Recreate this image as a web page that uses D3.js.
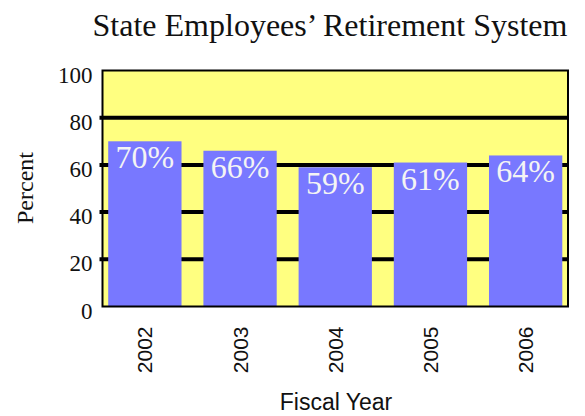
<!DOCTYPE html>
<html>
<head>
<meta charset="utf-8">
<script src="https://cdn.jsdelivr.net/npm/d3@7/dist/d3.min.js"></script>
<style>
  body { margin: 0; background: #fff; }
  svg { display: block; }
</style>
</head>
<body>
<div id="chart"></div>
<script>
"use strict";

// chart data
var years = ["2002", "2003", "2004", "2005", "2006"];
var percents = [70, 66, 59, 61, 64];
var yTicks = [0, 20, 40, 60, 80, 100];

var title = "State Employees\u2019 Retirement System";
var yTitle = "Percent";
var xTitle = "Fiscal Year";

var serif = "'Liberation Serif', 'Times New Roman', serif";
var sans = "'Liberation Sans', Arial, sans-serif";

// size and plot box
var width = 585, height = 416;
var margin = {top: 70.5, right: 17, bottom: 109.5, left: 102.5};
var plotW = width - margin.left - margin.right,
    plotH = height - margin.top - margin.bottom;

var svg = d3.select("#chart")
  .append("svg")
  .attr("width", width)
  .attr("height", height);

var g = svg.append("g")
  .attr("transform", "translate(" + margin.left + "," + margin.top + ")");

var x = d3.scaleBand()
  .domain(years)
  .range([0, plotW])
  .paddingInner(0.23)
  .paddingOuter(0.06);

var y = d3.scaleLinear()
  .domain([0, 100])
  .range([plotH, 0]);

// yellow plot background
g.append("rect")
  .attr("width", plotW)
  .attr("height", plotH)
  .style("fill", "#ffff80");

// thick black grid lines (drawn under the bars)
g.append("g")
  .selectAll("line")
  .data(yTicks.filter(function(d) { return d > 0 && d < 100; }))
  .enter()
  .append("line")
    .attr("x1", -3)
    .attr("x2", plotW)
    .attr("y1", function(d) { return y(d); })
    .attr("y2", function(d) { return y(d); })
    .style("stroke", "#000")
    .style("stroke-width", 4);

// bars
g.append("g")
  .selectAll("rect")
  .data(percents)
  .enter()
  .append("rect")
    .attr("x", function(d, i) { return x(years[i]); })
    .attr("y", function(d) { return y(d); })
    .attr("width", x.bandwidth())
    .attr("height", function(d) { return plotH - y(d); })
    .style("fill", "#7878ff");

// value labels inside the top of each bar
g.append("g")
  .selectAll("text")
  .data(percents)
  .enter()
  .append("text")
    .attr("x", function(d, i) { return x(years[i]) + x.bandwidth() / 2; })
    .attr("y", function(d) { return y(d) + 27; })
    .attr("text-anchor", "middle")
    .attr("font-family", serif)
    .style("font-family", serif)
    .style("font-size", "32px")
    .style("fill", "#f4f4f4")
    .text(function(d) { return d + "%"; });

// frame
g.append("rect")
  .attr("width", plotW)
  .attr("height", plotH)
  .style("fill", "none")
  .style("stroke", "#000")
  .style("stroke-width", 2);

// y axis labels
var yAxis = g.append("g")
  .attr("font-family", serif)
  .call(d3.axisLeft(y).tickValues(yTicks).tickSize(0).tickPadding(10));
yAxis.attr("font-family", serif);
yAxis.select(".domain").remove();
yAxis.selectAll("text")
  .attr("dy", "0.5em")
  .style("font-family", serif)
  .style("font-size", "23px")
  .style("fill", "#111");

// x axis labels, rotated
var xAxis = g.append("g")
  .attr("transform", "translate(0," + plotH + ")")
  .call(d3.axisBottom(x).tickSize(0));
xAxis.select(".domain").remove();
xAxis.selectAll("text")
  .attr("transform", "rotate(-90)")
  .attr("text-anchor", "end")
  .attr("x", -20)
  .attr("y", 0)
  .attr("dy", "0.36em")
  .style("font-family", sans)
  .style("font-size", "21px")
  .style("fill", "#111");

// titles
svg.append("text")
  .attr("x", 330)
  .attr("y", 36)
  .attr("text-anchor", "middle")
  .style("font-family", serif)
  .style("font-size", "32px")
  .style("fill", "#111")
  .text(title);

svg.append("text")
  .attr("transform", "translate(33,188) rotate(-90)")
  .attr("text-anchor", "middle")
  .style("font-family", serif)
  .style("font-size", "24px")
  .style("fill", "#111")
  .text(yTitle);

svg.append("text")
  .attr("x", 336)
  .attr("y", 410)
  .attr("text-anchor", "middle")
  .style("font-family", sans)
  .style("font-size", "23px")
  .style("fill", "#111")
  .text(xTitle);
</script>
</body>
</html>
